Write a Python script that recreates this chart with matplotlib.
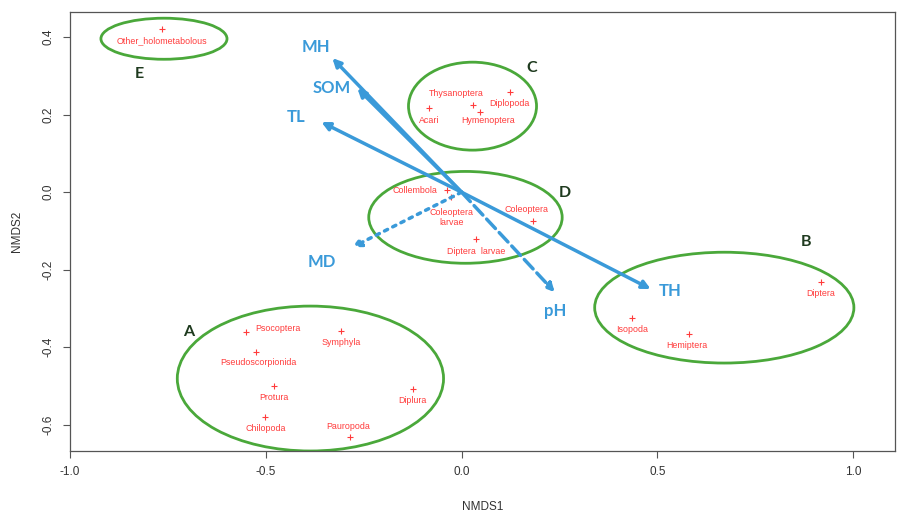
import matplotlib
matplotlib.use("Agg")
import matplotlib.pyplot as plt
from matplotlib.patches import Ellipse

plt.rcParams['axes.unicode_minus'] = False

# ---------------------------------------------------------#
#                      Taxa scores                          #
# ---------------------------------------------------------#
taxa = ["Other_holometabolous",
        "Acari", "Thysanoptera", "Hymenoptera", "Diplopoda",
        "Collembola", "Coleoptera\nlarvae", "Coleoptera", "Diptera  larvae",
        "Psocoptera", "Symphyla", "Pseudoscorpionida", "Protura", "Chilopoda", "Pauropoda", "Diplura",
        "Diptera", "Isopoda", "Hemiptera"]
nmds1 = [-0.765,
         -0.084, 0.028, 0.046, 0.125,
         -0.038, -0.026, 0.182, 0.038,
         -0.550, -0.307, -0.524, -0.478, -0.501, -0.284, -0.123,
         0.918, 0.435, 0.581]
nmds2 = [0.420,
         0.217, 0.225, 0.206, 0.258,
         0.005, -0.013, -0.075, -0.121,
         -0.361, -0.359, -0.413, -0.500, -0.581, -0.632, -0.508,
         -0.232, -0.325, -0.366]
# where each taxon name sits (ordination coordinates)
label_x = [-0.765,
           -0.082, -0.013, 0.069, 0.123,
           -0.120, -0.026, 0.166, 0.038,
           -0.470, -0.307, -0.520, -0.478, -0.501, -0.289, -0.125,
           0.918, 0.435, 0.575]
label_y = [0.390,
           0.186, 0.255, 0.186, 0.230,
           0.005, -0.066, -0.044, -0.152,
           -0.351, -0.387, -0.439, -0.529, -0.609, -0.606, -0.537,
           -0.261, -0.354, -0.395]

# ---------------------------------------------------------#
#                    Environmental vectors                  #
# ---------------------------------------------------------#
env_names = ["MH", "SOM", "TL", "TH", "MD", "pH"]
env_x = [-0.330, -0.266, -0.358, 0.483, -0.279, 0.238]
env_y = [0.346, 0.268, 0.181, -0.250, -0.142, -0.258]
env_label_x = [-0.371, -0.332, -0.422, 0.532, -0.358, 0.240]
env_label_y = [0.375, 0.268, 0.194, -0.255, -0.181, -0.307]
env_styles = ["-", "-", "-", "-", ":", "--"]

# ---------------------------------------------------------#
#                         Groups                            #
# ---------------------------------------------------------#
groups = ["E", "C", "D", "A", "B"]
group_cx = [-0.760, 0.028, 0.010, -0.386, 0.671]
group_cy = [0.396, 0.222, -0.065, -0.481, -0.298]
group_w = [0.322, 0.327, 0.494, 0.680, 0.662]
group_h = [0.106, 0.227, 0.237, 0.374, 0.286]
group_lx = [-0.824, 0.179, 0.263, -0.698, 0.880]
group_ly = [0.305, 0.320, -0.003, -0.361, -0.129]

red = "#ff3b3b"
blue = "#3a9ad9"
green = "#4aa83a"

fig = plt.figure(figsize=(9, 5.15), dpi=100)
ax = fig.add_axes([70 / 900, 1 - 451 / 515, 825 / 900, 439 / 515])

for cx, cy, w, h in zip(group_cx, group_cy, group_w, group_h):
    ax.add_patch(Ellipse((cx, cy), w, h, fill=False, ec=green, lw=2))
for g, lx, ly in zip(groups, group_lx, group_ly):
    ax.text(lx, ly, g, color="#1e3a1e", fontsize=11.5, fontweight="bold",
            family="Lato", ha="center", va="center")

ax.scatter(nmds1, nmds2, marker="+", s=14, color=red, lw=0.8, zorder=3)
for t, lx, ly in zip(taxa, label_x, label_y):
    ax.text(lx, ly, t, color=red, fontsize=6.4, family="Liberation Sans",
            ha="center", va="center", linespacing=1.1)

for x, y, ls in zip(env_x, env_y, env_styles):
    ax.annotate("", xy=(x, y), xytext=(0, 0),
                arrowprops=dict(arrowstyle="-|>", color=blue, lw=2.5, linestyle=ls,
                                mutation_scale=12, shrinkA=0, shrinkB=0))
for n, lx, ly in zip(env_names, env_label_x, env_label_y):
    ax.text(lx, ly, n, color=blue, fontsize=12, fontweight="bold",
            family="Lato", ha="center", va="center")

ax.set_xlim(-1.0, 1.107)
ax.set_ylim(-0.668, 0.465)
ax.set_xticks([-1.0, -0.5, 0.0, 0.5, 1.0])
ax.set_yticks([-0.6, -0.4, -0.2, 0.0, 0.2, 0.4])
ax.set_yticklabels(["-0.6", "-0.4", "-0.2", "0.0", "0.2", "0.4"], rotation=90, va="center")
ax.tick_params(direction="out", length=5, width=0.8, colors="#555555",
               labelcolor="#333333", labelsize=8.5, pad=6)
for lab in ax.get_xticklabels() + ax.get_yticklabels():
    lab.set_family("Liberation Sans")
for s in ax.spines.values():
    s.set_color("#555555")
    s.set_linewidth(0.9)
ax.set_xlabel("NMDS1", fontsize=8.5, color="#333333", family="Liberation Sans", labelpad=16)
ax.set_ylabel("NMDS2", fontsize=8.5, color="#333333", family="Liberation Sans", labelpad=14)

fig.savefig("out.png", dpi=100)
